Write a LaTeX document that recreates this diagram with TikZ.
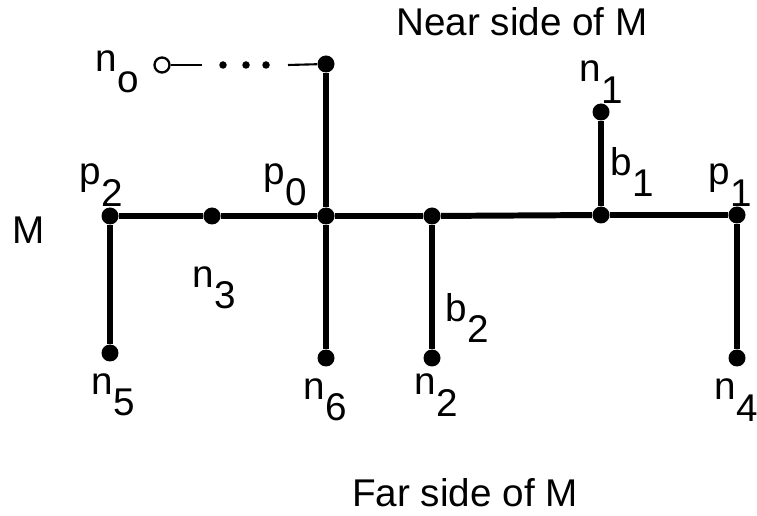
\documentclass[tikz,border=0pt]{standalone}
\usepackage{fontspec}
\setmainfont{Liberation Sans}
\usetikzlibrary{positioning}
\newcommand{\lbsub}[2]{#1\raisebox{-0.55em}{#2}}

\begin{document}
\begin{tikzpicture}[
  x=0.02cm, y=-0.02cm,
  every node/.style={font=\fontsize{22}{26}\selectfont},
  vtx/.style={circle,fill=black,inner sep=0pt,minimum size=0.34cm},
  opnvtx/.style={circle,draw=black,line width=1.3pt,inner sep=0pt,minimum size=0.3cm},
  elip/.style={circle,fill=black,inner sep=0pt,minimum size=0.15cm},
  branch/.style={line width=3.4pt},
  lead/.style={line width=1.2pt},
  lbl/.style={inner sep=0pt},
]
  \useasboundingbox (0,0) rectangle (757,516);

  % Points on M
  \node[vtx] (p2) at (110,216) {};
  \node[vtx] (n3) at (212,216) {};
  \node[vtx] (p0) at (326,216) {};
  \node[vtx] (j2) at (432,216) {};
  \node[vtx] (j1) at (601,215) {};
  \node[vtx] (p1) at (737,215) {};

  % Branch ends
  \node[vtx] (tp0) at (326,64) {};
  \node[vtx] (n1) at (601,112) {};
  \node[vtx] (n5) at (110,353) {};
  \node[vtx] (n6) at (326,358) {};
  \node[vtx] (n2) at (432,358) {};
  \node[vtx] (n4) at (737,358) {};

  % Path to n_o
  \node[opnvtx] (no) at (162,65) {};
  \coordinate (la) at (202,65);
  \node[elip] (e1) at (223,65) {};
  \node[elip] (e2) at (246,65) {};
  \node[elip] (e3) at (266,65) {};
  \coordinate (lb) at (288,65);

  % Lines
  \draw[branch] (p2) -- (n3) -- (p0) -- (j2) -- (j1) -- (p1);
  \draw[branch] (tp0) -- (p0) -- (n6);
  \draw[branch] (p2) -- (n5);
  \draw[branch] (j2) -- (n2);
  \draw[branch] (j1) -- (n1);
  \draw[branch] (p1) -- (n4);
  \draw[lead] (no) -- (la);
  \draw[lead] (lb) -- (tp0);

  % Labels
  \node[lbl] (near) at (522,22) {Near side of M};
  \node[lbl] (far) at (465,493) {Far side of M};
  \node[lbl] (mlab) at (29,230) {M};
  \node[lbl] (nolab) at (117,72) {\lbsub{n}{o}};
  \node[lbl] (n1lab) at (601,82) {\lbsub{n}{1}};
  \node[lbl] (p2lab) at (101,185) {\lbsub{p}{2}};
  \node[lbl] (p0lab) at (285,185) {\lbsub{p}{0}};
  \node[lbl] (b1lab) at (632,172) {\lbsub{b}{1}};
  \node[lbl] (p1lab) at (730,185) {\lbsub{p}{1}};
  \node[lbl] (n3lab) at (214,288) {\lbsub{n}{3}};
  \node[lbl] (b2lab) at (467,318) {\lbsub{b}{2}};
  \node[lbl] (n5lab) at (113,395) {\lbsub{n}{5}};
  \node[lbl] (n6lab) at (325,400) {\lbsub{n}{6}};
  \node[lbl] (n2lab) at (436,395) {\lbsub{n}{2}};
  \node[lbl] (n4lab) at (736,400) {\lbsub{n}{4}};
\end{tikzpicture}
\end{document}
